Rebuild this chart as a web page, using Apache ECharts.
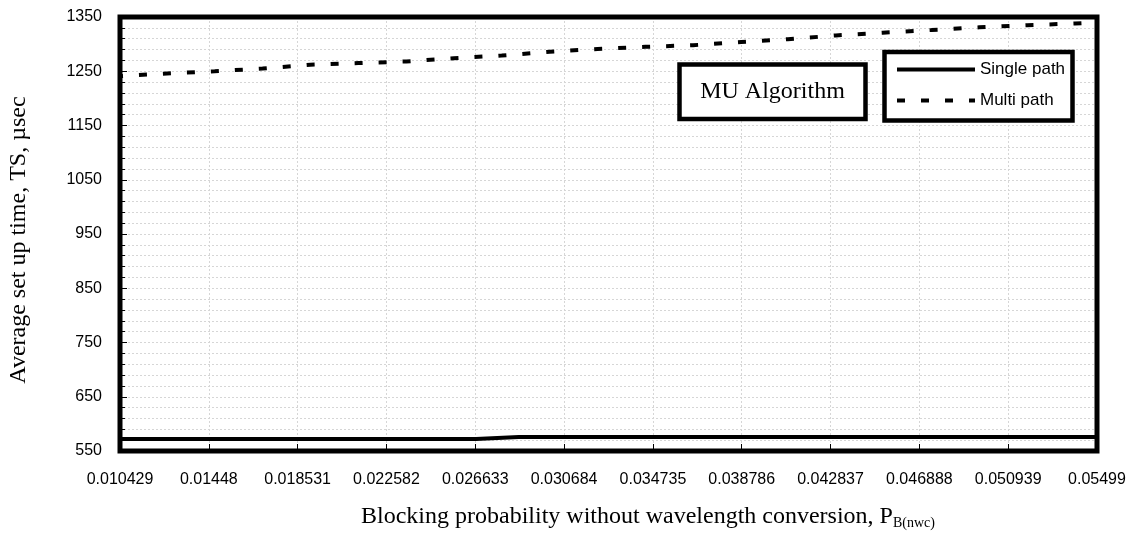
<!DOCTYPE html>
<html>
<head>
<meta charset="utf-8">
<script src="https://cdn.jsdelivr.net/npm/echarts@6/dist/echarts.min.js"></script>
<style>
html,body{margin:0;padding:0;background:#fff;}
#c{width:1136px;height:536px;}
</style>
</head>
<body>
<div id="c"></div>
<script>
// ---- data ----
const xTickLabels = ['0.010429','0.01448','0.018531','0.022582','0.026633','0.030684','0.034735','0.038786','0.042837','0.046888','0.050939','0.05499'];
const yTickMin = 550;
const yTickMax = 1350;
const yTickStep = 100;

const seriesNames = ['Single path', 'Multi path'];

const singleX = [0.010429, 0.02666, 0.02862, 0.05499];
const singleY = [572, 572, 576, 576];

const multiX = [0.010429, 0.01257, 0.01475, 0.01693, 0.01911, 0.0213, 0.02348, 0.02566, 0.02784, 0.03003, 0.03221, 0.03439, 0.03657, 0.03876, 0.04089, 0.04308, 0.04521, 0.04744, 0.04962, 0.05181, 0.05399, 0.05499];
const multiY = [1241, 1246, 1250, 1255, 1262, 1265, 1268, 1274, 1279, 1286, 1291, 1295, 1298, 1304, 1309, 1316, 1321, 1326, 1331, 1335, 1338, 1340];

const yTitle = 'Average set up time, TS, \u00b5sec';
const xTitleMain = 'Blocking probability without wavelength conversion, P';
const xTitleSub = 'B(nwc)';
const boxLabel = 'MU Algorithm';

// ---- chart ----
const chart = echarts.init(document.getElementById('c'), null, {renderer: 'canvas', width: 1136, height: 536});

const gridStyle = {color: '#d6d6d6', width: 1, type: [2, 2]};
const sans = '"Liberation Sans", Arial, sans-serif';
const serif = '"Liberation Serif", "Times New Roman", serif';

const option = {
  animation: false,
  backgroundColor: '#ffffff',
  grid: {
    left: 120, right: 39, top: 17, bottom: 85, z: 5,
    show: true, borderColor: '#000', borderWidth: 5, backgroundColor: 'transparent'
  },
  xAxis: [
    {
      type: 'category',
      data: xTickLabels,
      boundaryGap: false,
      axisLine: {show: false},
      axisTick: {show: true, inside: true, length: 7, interval: 0, lineStyle: {color: '#000', width: 1}},
      axisLabel: {interval: 0, color: '#000', fontFamily: sans, fontSize: 16, margin: 21},
      splitLine: {show: true, interval: 0, lineStyle: gridStyle}
    },
    {
      type: 'value',
      show: false,
      min: parseFloat(xTickLabels[0]),
      max: parseFloat(xTickLabels[xTickLabels.length - 1]),
      splitLine: {show: false},
      axisTick: {show: false},
      axisLabel: {show: false}
    }
  ],
  yAxis: {
    type: 'value',
    min: yTickMin, max: yTickMax, interval: yTickStep,
    axisLine: {show: false},
    axisTick: {show: true, inside: true, length: 7, lineStyle: {color: '#000'}},
    minorTick: {show: true, splitNumber: 5, length: 5, lineStyle: {color: '#000'}},
    splitLine: {show: true, lineStyle: gridStyle},
    minorSplitLine: {show: true, lineStyle: gridStyle},
    axisLabel: {color: '#000', fontFamily: sans, fontSize: 16, margin: 18, formatter: v => String(v)}
  },
  legend: {
    data: seriesNames,
    orient: 'vertical',
    left: 895, top: 61,
    padding: 0,
    itemWidth: 78, itemHeight: 14, itemGap: 14,
    selectedMode: false,
    z: 10,
    itemStyle: {opacity: 0, borderWidth: 0},
    lineStyle: {width: 4, dashOffset: 0},
    textStyle: {fontFamily: sans, fontSize: 17, color: '#000'}
  },
  series: [
    {
      name: seriesNames[0], type: 'line', xAxisIndex: 1,
      data: singleX.map((x, i) => [x, singleY[i]]),
      symbol: 'none', smooth: false,
      lineStyle: {color: '#000', width: 4},
      itemStyle: {color: '#000'},
      z: 3
    },
    {
      name: seriesNames[1], type: 'line', xAxisIndex: 1,
      data: multiX.map((x, i) => [x, multiY[i]]),
      symbol: 'none', smooth: false,
      lineStyle: {color: '#000', width: 4, type: [8, 16], dashOffset: 5, cap: 'butt'},
      itemStyle: {color: '#000'},
      z: 3
    }
  ],
  graphic: [
    {
      type: 'text', x: 19, y: 240, rotation: Math.PI / 2, z: 10,
      style: {text: yTitle, fontFamily: serif, fontSize: 24, fill: '#000', align: 'center', verticalAlign: 'middle', textAlign: 'center', textVerticalAlign: 'middle'}
    },
    {
      type: 'text', x: 648, y: 517, z: 10,
      style: {
        text: '{a|' + xTitleMain + '}{b|' + xTitleSub + '}',
        align: 'center', verticalAlign: 'middle', textAlign: 'center', textVerticalAlign: 'middle',
        rich: {
          a: {fontFamily: serif, fontSize: 24, fill: '#000'},
          b: {fontFamily: serif, fontSize: 14, fill: '#000', padding: [12, 0, 0, 0]}
        }
      }
    },
    {
      type: 'rect', z: 8,
      shape: {x: 679.5, y: 64.5, width: 186, height: 54.5},
      style: {fill: '#fff', stroke: '#000', lineWidth: 4.5}
    },
    {
      type: 'text', x: 772.5, y: 92, z: 9,
      style: {text: boxLabel, fontFamily: serif, fontSize: 24, fill: '#000', align: 'center', verticalAlign: 'middle', textAlign: 'center', textVerticalAlign: 'middle'}
    },
    {
      type: 'rect', z: 8,
      shape: {x: 884.5, y: 52, width: 188, height: 68.5},
      style: {fill: '#fff', stroke: '#000', lineWidth: 4.5}
    }
  ]
};
chart.setOption(option);
</script>
</body>
</html>
